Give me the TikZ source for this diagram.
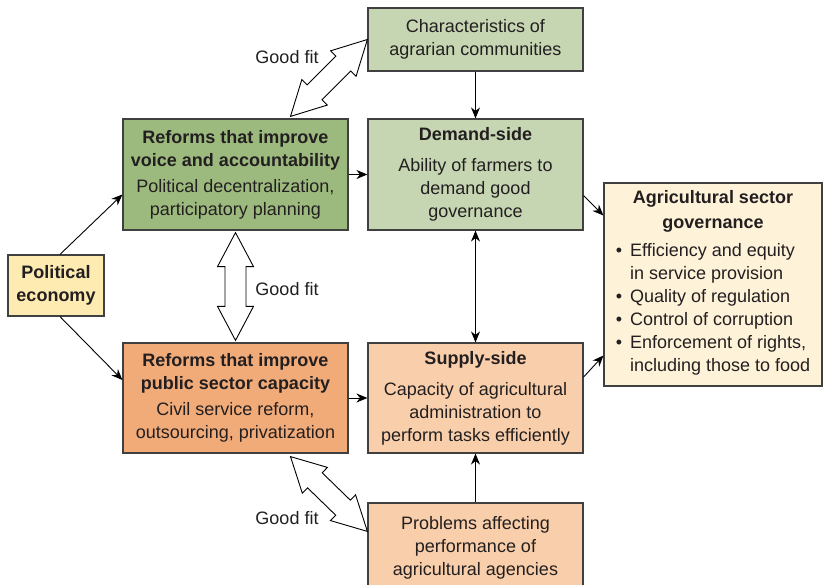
\documentclass[tikz,border=0pt]{standalone}
\usepackage{fontspec}
\setmainfont{Liberation Sans}
\usetikzlibrary{arrows.meta,calc}

\definecolor{boxline}{RGB}{64,64,64}
\definecolor{txtgray}{RGB}{35,31,32}
\definecolor{palegreen}{RGB}{198,214,179}
\definecolor{darkgreen}{RGB}{157,186,126}
\definecolor{paleyellow}{RGB}{253,235,177}
\definecolor{cream}{RGB}{254,242,217}
\definecolor{darkorange}{RGB}{241,171,121}
\definecolor{peach}{RGB}{249,207,171}

\tikzset{font=\fontsize{18}{23}\selectfont}
\tikzset{
  box/.style={draw=boxline, line width=1.2pt, align=center, inner sep=3pt, text=txtgray},
  link/.style={-{Stealth[length=11pt,width=9pt]}, line width=0.9pt},
  twolink/.style={{Stealth[length=11pt,width=9pt]}-{Stealth[length=11pt,width=9pt]}, line width=0.9pt},
  fitarrow/.style={draw=black, fill=white, line width=0.9pt, line join=miter},
  fitlabel/.style={inner sep=0pt, text=txtgray}
}

% hollow double arrow between two named points
\newcommand{\goodfit}[2]{%
  \draw[fitarrow] (#1)
    -- ($(#1)!34pt!(#2)!18pt!90:(#2)$)
    -- ($(#1)!34pt!(#2)!10.5pt!90:(#2)$)
    -- ($(#2)!34pt!(#1)!10.5pt!-90:(#1)$)
    -- ($(#2)!34pt!(#1)!18pt!-90:(#1)$)
    -- (#2)
    -- ($(#2)!34pt!(#1)!18pt!90:(#1)$)
    -- ($(#2)!34pt!(#1)!10.5pt!90:(#1)$)
    -- ($(#1)!34pt!(#2)!10.5pt!-90:(#2)$)
    -- ($(#1)!34pt!(#2)!18pt!-90:(#2)$)
    -- cycle;}

\begin{document}
\begin{tikzpicture}[x=1pt,y=1pt]
  \useasboundingbox (0,0) rectangle (824,584);

  % boxes
  \node[box, fill=palegreen, minimum width=215pt, minimum height=63pt] (chars) at (475.5,544.5)
    {Characteristics of\\agrarian communities};
  \node[box, fill=darkgreen, minimum width=225pt, minimum height=111pt] (voice) at (235.5,409.5)
    {\textbf{Reforms that improve}\\\textbf{voice and accountability}\\[3pt]Political decentralization,\\participatory planning};
  \node[box, fill=palegreen, minimum width=215pt, minimum height=111pt] (demand) at (475.5,409.5)
    {\textbf{Demand-side}\\[8pt]Ability of farmers to\\demand good\\governance};
  \node[box, fill=paleyellow, minimum width=96pt, minimum height=61pt] (polit) at (56,298.5)
    {\textbf{Political}\\\textbf{economy}};
  \node[box, fill=cream, minimum width=218pt, minimum height=203pt] (gov) at (713,299.5)
    {\textbf{Agricultural sector}\\[2pt]\textbf{governance}\\[7pt]%
     \begin{tabular}{@{}l@{\hspace{8pt}}l@{}}
       \textbullet & Efficiency and equity\\
                   & in service provision\\
       \textbullet & Quality of regulation\\
       \textbullet & Control of corruption\\
       \textbullet & Enforcement of rights,\\
                   & including those to food
     \end{tabular}};
  \node[box, fill=darkorange, minimum width=225pt, minimum height=110pt] (public) at (235.5,186)
    {\textbf{Reforms that improve}\\\textbf{public sector capacity}\\[3pt]Civil service reform,\\outsourcing, privatization};
  \node[box, fill=peach, minimum width=215pt, minimum height=110pt] (supply) at (475.5,186)
    {\textbf{Supply-side}\\[8pt]Capacity of agricultural\\administration to\\perform tasks efficiently};
  \node[box, fill=peach, minimum width=215pt, minimum height=90pt] (problems) at (475.5,36)
    {Problems affecting\\performance of\\agricultural agencies};

  % plain arrows
  \draw[link] ($(polit.north)+(4,0)$) -- ($(voice.west)+(0,-20)$);
  \draw[link] ($(polit.south)+(4,0)$) -- ($(public.west)+(0,18)$);
  \draw[link] (voice.east) -- (demand.west);
  \draw[link] (public.east) -- (supply.west);
  \draw[link] (chars.south) -- (demand.north);
  \draw[twolink] (demand.south) -- (supply.north);
  \draw[link] (problems.north) -- (supply.south);
  \draw[link] ($(demand.east)+(0,-21)$) -- ($(gov.west)+(0,69)$);
  \draw[link] ($(supply.east)+(0,21)$) -- ($(gov.west)+(0,-71)$);

  % good fit arrows
  \coordinate (fit1a) at (chars.west);
  \coordinate (fit1b) at ($(voice.north)+(55,2)$);
  \coordinate (fit2a) at ($(voice.south)+(0,-2)$);
  \coordinate (fit2b) at ($(public.north)+(0,2)$);
  \coordinate (fit3a) at ($(public.south)+(55,-3)$);
  \coordinate (fit3b) at ($(problems.north west)+(0,-29)$);
  \goodfit{fit1a}{fit1b}
  \goodfit{fit2a}{fit2b}
  \goodfit{fit3a}{fit3b}
  \node[fitlabel] (fitlab1) at (287,527) {Good fit};
  \node[fitlabel] (fitlab2) at (287,295) {Good fit};
  \node[fitlabel] (fitlab3) at (287,66) {Good fit};
\end{tikzpicture}
\end{document}
